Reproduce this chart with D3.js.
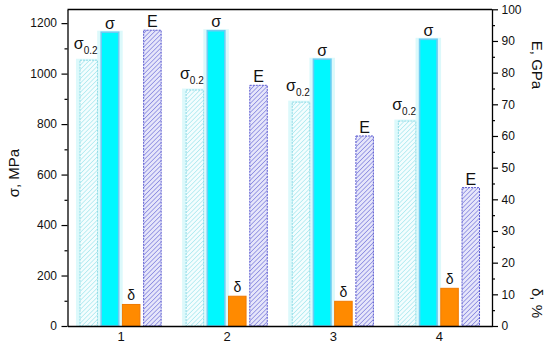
<!DOCTYPE html>
<html>
<head>
<meta charset="utf-8">
<script src="https://cdn.jsdelivr.net/npm/d3@7"></script>
<style>
  html, body { margin: 0; padding: 0; background: #fff; }
  svg { display: block; }
  text { font-family: Arial, "Liberation Sans", sans-serif; }
</style>
</head>
<body>
<svg id="chart" width="550" height="347"></svg>
<script>
// ---- data ----
const categories = [1, 2, 3, 4];
const sigma02 = [1053, 935, 887, 812];   // MPa (left axis)
const sigma   = [1164, 1170, 1057, 1136]; // MPa (left axis)
const delta   = [6.8, 9.4, 7.8, 11.9];    // % (right axis)
const modulus = [93.4, 76.0, 60.0, 43.7]; // GPa (right axis)
const leftTicks  = [0, 200, 400, 600, 800, 1000, 1200];
const rightTicks = [0, 10, 20, 30, 40, 50, 60, 70, 80, 90, 100];

const svg = d3.select("#chart");
const L = 67.5, R = 492, T = 9.5, B = 326;

const x  = d3.scaleLinear().domain([0.5, 4.5]).range([L, R]);
const yL = d3.scaleLinear().domain([0, 1254]).range([B, T]);
const yR = d3.scaleLinear().domain([0, 100]).range([B, 9.3]);
const bw = 0.165; // bar width in x units
const fmt = d3.format("d");

// ---- patterns ----
const defs = svg.append("defs");
function hatch(id, bg, stroke, size, sw) {
  const p = defs.append("pattern").attr("id", id)
    .attr("patternUnits", "userSpaceOnUse")
    .attr("width", size).attr("height", size)
    .attr("patternTransform", "rotate(45)");
  p.append("rect").attr("width", size).attr("height", size).attr("fill", bg);
  p.append("line").attr("x1", 0).attr("y1", 0).attr("x2", 0).attr("y2", size)
    .attr("stroke", stroke).attr("stroke-width", sw);
}
hatch("hS02", "#f4fdfe", "#9ae4ec", 3.2, 1.2);
hatch("hE", "#e6e6fa", "#6464d6", 3.2, 1.1);

// ---- series definition (built from arrays) ----
const series = [
  { name: "s02", vals: sigma02, y: yL, off: -0.3 },
  { name: "s",   vals: sigma,   y: yL, off: -0.1 },
  { name: "d",   vals: delta,   y: yR, off:  0.1 },
  { name: "E",   vals: modulus, y: yR, off:  0.3 }
];

const g = svg.append("g");

// halos around sigma bars
[series[0], series[1]].forEach(s => {
  g.selectAll(null).data(categories).enter().append("rect")
    .attr("x", (c) => x(c + s.off - bw / 2) - 4)
    .attr("width", (c) => x(c + s.off + bw / 2) - x(c + s.off - bw / 2) + 8)
    .attr("y", (c, i) => s.y(s.vals[i]) - 1.5)
    .attr("height", (c, i) => B - s.y(s.vals[i]) + 1.5)
    .attr("fill", "#dcf9fb");
});

function bars(s, fill, stroke, sw, dash) {
  g.selectAll(null).data(categories).enter().append("rect")
    .attr("x", c => x(c + s.off - bw / 2))
    .attr("width", c => x(c + s.off + bw / 2) - x(c + s.off - bw / 2))
    .attr("y", (c, i) => s.y(s.vals[i]))
    .attr("height", (c, i) => B - s.y(s.vals[i]))
    .attr("fill", fill).attr("stroke", stroke).attr("stroke-width", sw)
    .attr("stroke-dasharray", dash || null);
}
bars(series[0], "url(#hS02)", "#8fdbe6", 1, "2,1");
bars(series[1], "#00f8ff", "#6ccdf2", 1.6);
bars(series[2], "#ff8a00", "#f07a00", 1);
bars(series[3], "url(#hE)", "#5a5ad0", 1, "2,1");

// ---- bar labels ----
const lab = svg.append("g").attr("fill", "#111");
// sigma 0.2
lab.selectAll(null).data(categories).enter().append("text")
  .attr("x", c => x(c + series[0].off) - 3)
  .attr("y", (c, i) => yL(sigma02[i]) - 11)
  .attr("text-anchor", "middle")
  .each(function() {
    const t = d3.select(this);
    t.append("tspan").attr("font-size", 16).text("σ");
    t.append("tspan").attr("font-size", 10).attr("dy", 5).text("0.2");
  });
lab.selectAll(null).data(categories).enter().append("text")
  .attr("x", c => x(c + series[1].off))
  .attr("y", (c, i) => yL(sigma[i]) - 3.5)
  .attr("text-anchor", "middle").attr("font-size", 16).text("σ");
lab.selectAll(null).data(categories).enter().append("text")
  .attr("x", c => x(c + series[2].off))
  .attr("y", (c, i) => yR(delta[i]) - 4)
  .attr("text-anchor", "middle").attr("font-size", 14).text("δ");
lab.selectAll(null).data(categories).enter().append("text")
  .attr("x", c => x(c + series[3].off))
  .attr("y", (c, i) => yR(modulus[i]) - 3)
  .attr("text-anchor", "middle").attr("font-size", 16).text("E");

// ---- axes ----
function styleAxis(sel, fs) {
  sel.selectAll("path").attr("stroke", "#000").attr("stroke-width", 1.3);
  sel.selectAll("line").attr("stroke", "#000").attr("stroke-width", 1.2);
  sel.selectAll("text").attr("font-size", fs).attr("fill", "#111")
    .attr("font-family", "Arial, 'Liberation Sans', sans-serif");
}
// minor ticks
svg.append("g").attr("transform", `translate(${L},0)`)
  .call(d3.axisLeft(yL).tickValues(d3.range(100, 1254, 200)).tickSize(3).tickFormat("").tickSizeOuter(0))
  .call(s => { s.select(".domain").remove(); styleAxis(s, 12); });
svg.append("g").attr("transform", `translate(${R},0)`)
  .call(d3.axisRight(yR).tickValues(d3.range(5, 100, 10)).tickSize(3).tickFormat("").tickSizeOuter(0))
  .call(s => { s.select(".domain").remove(); styleAxis(s, 12); });

svg.append("g").attr("transform", `translate(${L},0)`)
  .call(d3.axisLeft(yL).tickValues(leftTicks).tickFormat(fmt).tickSize(6).tickPadding(4.5).tickSizeOuter(0))
  .call(s => styleAxis(s, 12));
svg.append("g").attr("transform", `translate(${R},0)`)
  .call(d3.axisRight(yR).tickValues(rightTicks).tickFormat(fmt).tickSize(6).tickPadding(3.5).tickSizeOuter(0))
  .call(s => styleAxis(s, 12));
svg.append("g").attr("transform", `translate(0,${B})`)
  .call(d3.axisBottom(x).tickValues(categories).tickFormat(fmt).tickSize(0).tickPadding(6).tickSizeOuter(0))
  .call(s => styleAxis(s, 13));
// top frame
svg.append("line").attr("x1", L).attr("x2", R).attr("y1", T).attr("y2", T)
  .attr("stroke", "#000").attr("stroke-width", 1.3);

// ---- axis titles ----
svg.append("text").attr("transform", "translate(13,173) rotate(-90)")
  .attr("text-anchor", "middle").attr("dominant-baseline", "central")
  .attr("font-size", 15).attr("fill", "#111").text("σ, MPa");
svg.append("text").attr("transform", "translate(537,65) rotate(90)")
  .attr("text-anchor", "middle").attr("dominant-baseline", "central")
  .attr("font-size", 15).attr("fill", "#111").text("E, GPa");
svg.append("text").attr("transform", "translate(537,303) rotate(90)")
  .attr("text-anchor", "middle").attr("dominant-baseline", "central")
  .attr("font-size", 15).attr("fill", "#111").text("δ, %");
</script>
</body>
</html>
